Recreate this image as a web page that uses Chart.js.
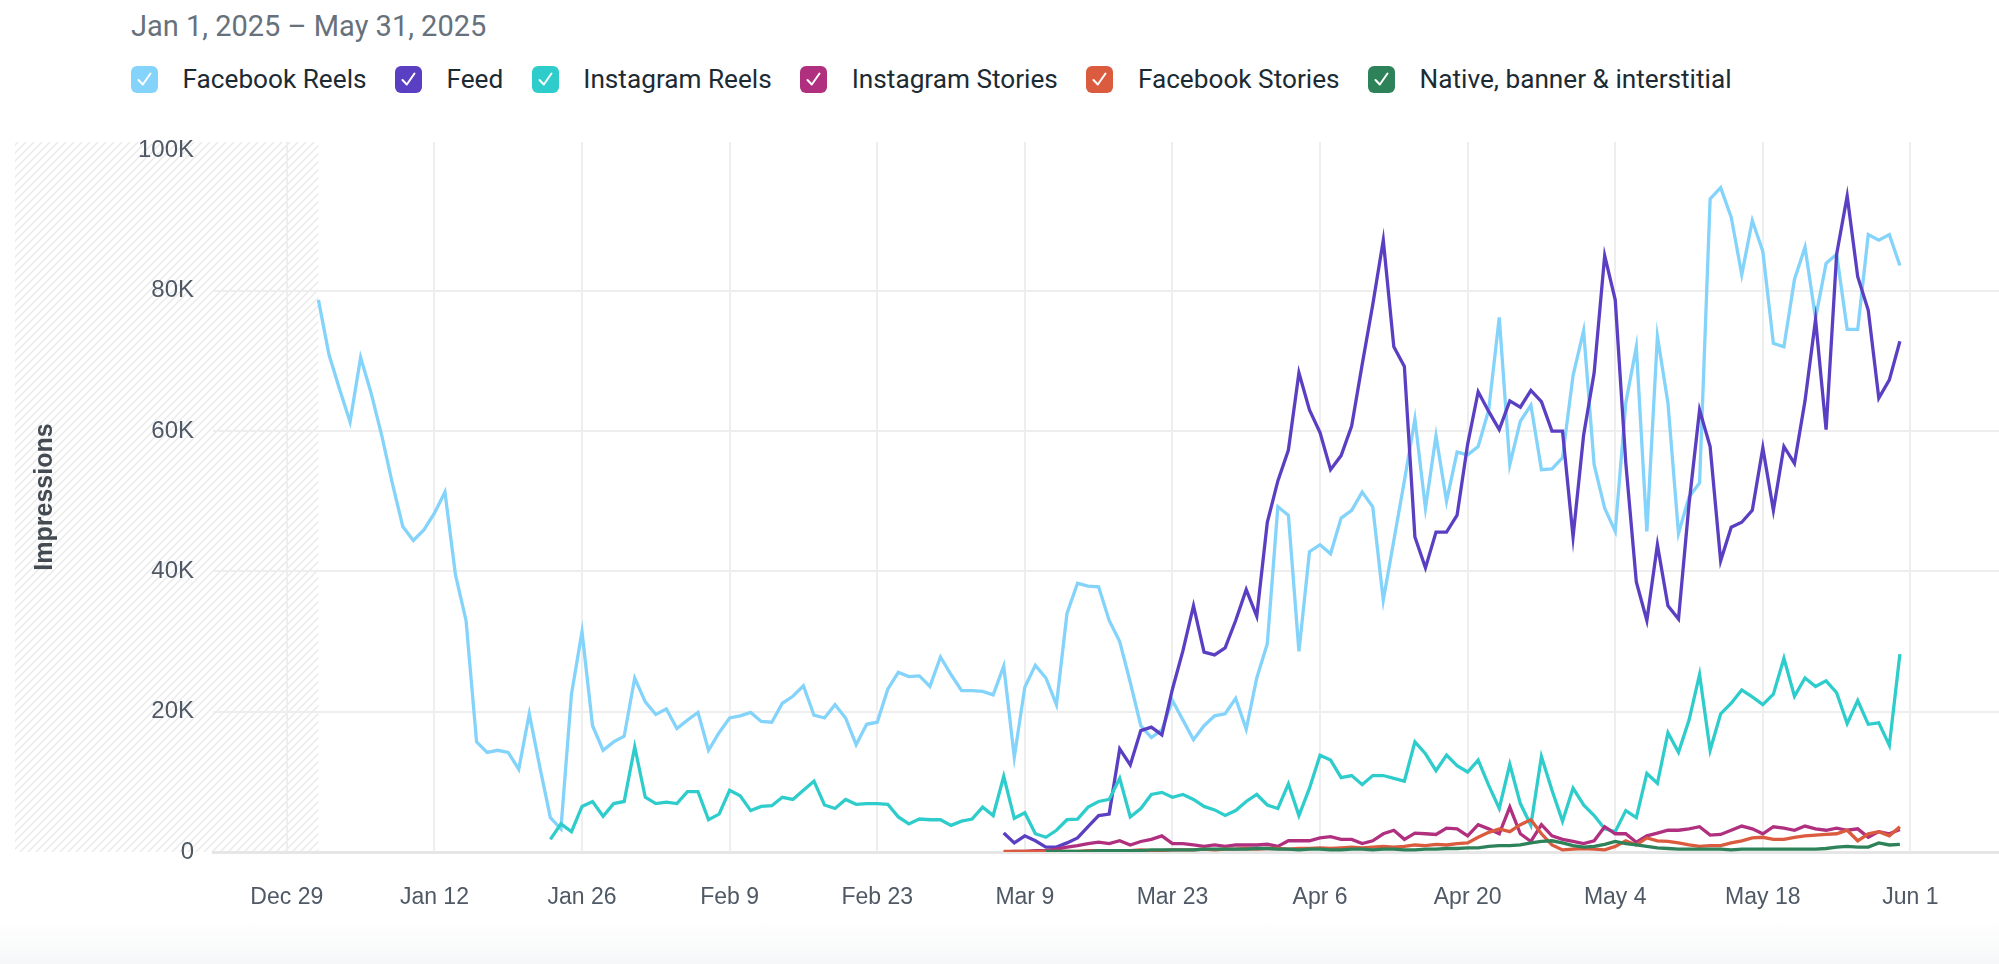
<!DOCTYPE html>
<html>
<head>
<meta charset="utf-8">
<script src="https://cdn.jsdelivr.net/npm/chart.js@4.4.1/dist/chart.umd.min.js"></script>
<style>
  html, body { margin: 0; padding: 0; }
  body {
    width: 1999px; height: 964px; position: relative; overflow: hidden;
    background: linear-gradient(#fff 0, #fff 920px, #f6f7f8 964px);
    font-family: Roboto, sans-serif;
  }
  #range { position: absolute; left: 131px; top: 9px; font-size: 29px; color: #67717c; }
  #legend { position: absolute; left: 131px; top: 64px; display: flex; align-items: center; }
  .item { display: flex; align-items: center; margin-right: 28.5px; font-size: 26.2px; color: #1c2b33; }
  .box { width: 27px; height: 27px; border-radius: 6px; margin-right: 24.5px;
         display: flex; align-items: center; justify-content: center; }
  canvas { position: absolute; left: 0; top: 0; }
</style>
</head>
<body>
<div id="range">Jan 1, 2025 – May 31, 2025</div>
<div id="legend"></div>
<canvas id="chart" width="1999" height="964"></canvas>
<script>
// day 0 = Jan 1, 2025; values in thousands of impressions
const tickDays   = [-3, 11, 25, 39, 53, 67, 81, 95, 109, 123, 137, 151];
const tickLabels = ['Dec 29', 'Jan 12', 'Jan 26', 'Feb 9', 'Feb 23', 'Mar 9', 'Mar 23', 'Apr 6', 'Apr 20', 'May 4', 'May 18', 'Jun 1'];
const yTicks     = [0, 20, 40, 60, 80, 100];

const names  = ['Facebook Reels', 'Feed', 'Instagram Reels', 'Instagram Stories', 'Facebook Stories', 'Native, banner & interstitial'];
const colors = ['#84d3fa', '#5b3fc3', '#2ecdcb', '#b0307f', '#da5b3e', '#2e8259'];
const starts = [0, 65, 22, 65, 65, 69];

const fbReels = [
  78.7, 70.9, 66.0, 61.3, 70.5, 65.4, 59.4, 52.6, 46.4, 44.4, 45.9, 48.3, 51.3, 39.5, 33.0, 15.7, 14.2, 14.5, 14.2, 11.8,
  19.7, 12.1, 4.9, 3.3, 22.5, 31.4, 18.0, 14.5, 15.7, 16.5, 24.8, 21.4, 19.6, 20.4, 17.6, 18.8, 19.9, 14.5, 17.0, 19.1,
  19.4, 19.9, 18.6, 18.5, 21.2, 22.2, 23.7, 19.5, 19.1, 21.0, 19.1, 15.3, 18.2, 18.5, 23.2, 25.6, 25.0, 25.1, 23.6, 27.8,
  25.3, 23.0, 23.0, 22.9, 22.4, 26.5, 13.5, 23.5, 26.6, 24.8, 21.0, 34.0, 38.3, 37.9, 37.8, 33.0, 30.0, 24.2, 18.0, 16.3,
  17.4, 21.6, 18.8, 16.0, 18.0, 19.4, 19.7, 21.9, 17.5, 24.8, 29.7, 49.2, 48.0, 28.6, 42.8, 43.8, 42.5, 47.6, 48.7, 51.3,
  49.2, 35.9, 44.4, 52.9, 61.7, 49.0, 59.3, 50.0, 57.0, 56.6, 57.8, 63.0, 76.2, 55.2, 61.4, 63.7, 54.5, 54.6, 56.2, 67.9,
  74.3, 55.2, 49.0, 45.7, 64.0, 72.0, 45.7, 73.5, 64.0, 45.4, 50.6, 52.6, 93.1, 94.7, 90.5, 82.3, 90.0, 85.6, 72.5, 72.0,
  81.6, 86.2, 76.1, 83.9, 85.2, 74.5, 74.5, 88.0, 87.2, 88.0, 83.6
];
const feed = [
  2.7, 1.3, 2.3, 1.6, 0.7, 0.7, 1.3, 2.0, 3.6, 5.2, 5.4, 14.7, 12.4, 17.3, 17.8, 16.7, 23.2, 28.7, 35.1, 28.5,
  28.1, 29.1, 33.0, 37.4, 33.6, 47.0, 52.9, 57.3, 68.3, 63.0, 59.8, 54.5, 56.5, 60.7, 69.5, 78.0, 87.2, 72.0, 69.2, 44.9,
  40.5, 45.6, 45.6, 48.0, 58.1, 65.6, 62.8, 60.2, 64.3, 63.4, 65.8, 64.2, 60.0, 60.0, 44.9, 59.4, 68.3, 85.0, 78.7, 55.5,
  38.5, 33.0, 43.8, 35.1, 33.2, 49.6, 63.0, 57.8, 41.5, 46.3, 47.0, 48.7, 57.6, 48.7, 57.8, 55.4, 64.3, 75.9, 60.2, 85.2,
  93.5, 82.0, 77.2, 64.7, 67.3, 72.8
];
const igReels = [
  1.8, 4.0, 2.9, 6.5, 7.2, 5.1, 6.9, 7.2, 15.0, 7.8, 6.9, 7.1, 6.9, 8.6, 8.6, 4.6, 5.4, 8.8, 8.0, 5.9,
  6.5, 6.6, 7.8, 7.5, 8.8, 10.1, 6.7, 6.2, 7.5, 6.8, 6.9, 6.9, 6.8, 5.0, 4.0, 4.7, 4.6, 4.6, 3.8, 4.4,
  4.7, 6.4, 5.2, 10.8, 4.8, 5.6, 2.6, 2.1, 3.1, 4.6, 4.7, 6.4, 7.2, 7.5, 10.5, 5.0, 6.2, 8.2, 8.5, 7.8,
  8.2, 7.5, 6.5, 6.0, 5.2, 5.9, 7.2, 8.2, 6.7, 6.2, 9.7, 5.2, 9.1, 13.8, 13.1, 10.6, 10.9, 9.6, 10.9, 10.9,
  10.5, 10.1, 15.7, 14.0, 11.6, 13.8, 12.3, 11.4, 13.1, 9.5, 6.2, 12.5, 6.9, 3.8, 13.6, 8.8, 4.4, 9.1, 6.7, 5.2,
  3.3, 2.9, 5.9, 4.9, 11.2, 9.8, 17.0, 14.2, 18.8, 25.3, 14.5, 19.7, 21.2, 23.1, 22.1, 21.0, 22.5, 27.6, 22.2, 24.8,
  23.6, 24.4, 22.7, 18.3, 21.6, 18.2, 18.4, 15.2, 28.2
];
const igStories = [
  0.0, 0.1, 0.1, 0.2, 0.2, 0.4, 0.7, 0.9, 1.2, 1.4, 1.2, 1.6, 1.0, 1.5, 1.8, 2.3, 1.2, 1.2, 1.0, 0.8,
  1.0, 0.8, 1.0, 1.0, 1.0, 1.1, 0.8, 1.6, 1.6, 1.6, 2.0, 2.2, 1.8, 1.8, 1.2, 1.6, 2.6, 3.1, 1.8, 2.7,
  2.6, 2.5, 3.4, 3.3, 2.3, 3.9, 3.3, 2.6, 6.4, 2.6, 1.5, 3.9, 2.3, 1.8, 1.5, 1.2, 1.6, 3.6, 2.6, 2.6,
  1.4, 2.3, 2.7, 3.1, 3.1, 3.3, 3.6, 2.4, 2.5, 3.1, 3.7, 3.3, 2.6, 3.6, 3.4, 3.1, 3.7, 3.3, 3.1, 3.4,
  3.1, 3.3, 2.1, 2.9, 2.6, 3.2
];
const fbStories = [
  0.1, 0.1, 0.1, 0.1, 0.1, 0.1, 0.1, 0.1, 0.2, 0.2, 0.2, 0.2, 0.2, 0.3, 0.2, 0.2, 0.3, 0.3, 0.3, 0.4,
  0.3, 0.4, 0.4, 0.5, 0.4, 0.5, 0.5, 0.4, 0.5, 0.5, 0.6, 0.5, 0.6, 0.7, 0.6, 0.7, 0.8, 0.7, 0.8, 1.0,
  0.9, 1.1, 1.0, 1.2, 1.3, 2.1, 2.8, 3.3, 2.9, 3.9, 4.6, 2.6, 1.0, 0.3, 0.4, 0.5, 0.4, 0.3, 0.8, 1.6,
  1.0, 2.0, 1.6, 1.5, 1.3, 1.0, 0.8, 0.9, 0.9, 1.3, 1.6, 2.0, 2.1, 1.8, 1.8, 2.1, 2.3, 2.4, 2.5, 2.6,
  3.1, 1.6, 2.6, 2.9, 2.3, 3.6
];
const native = [
  0.1, 0.1, 0.1, 0.1, 0.1, 0.2, 0.2, 0.2, 0.2, 0.2, 0.3, 0.3, 0.3, 0.3, 0.3, 0.4, 0.4, 0.4, 0.4, 0.4,
  0.5, 0.5, 0.4, 0.4, 0.3, 0.4, 0.4, 0.3, 0.3, 0.4, 0.4, 0.3, 0.4, 0.4, 0.3, 0.3, 0.4, 0.4, 0.5, 0.5,
  0.6, 0.6, 0.8, 0.9, 0.9, 1.0, 1.3, 1.5, 1.6, 1.3, 0.9, 0.7, 0.8, 1.1, 1.5, 1.2, 1.0, 0.8, 0.6, 0.5,
  0.4, 0.4, 0.4, 0.4, 0.4, 0.3, 0.4, 0.4, 0.4, 0.4, 0.4, 0.4, 0.4, 0.4, 0.5, 0.7, 0.8, 0.7, 0.7, 1.3,
  1.0, 1.1
];
const allValues = [fbReels, feed, igReels, igStories, fbStories, native];

// legend
const legend = document.getElementById('legend');
names.forEach((n, i) => {
  const item = document.createElement('div');
  item.className = 'item';
  item.innerHTML = `<div class="box" style="background:${colors[i]}"><svg width="17" height="17" viewBox="0 0 17 17">` +
    `<path d="M2.5 9 L6.8 13.5 L14.5 2.5" fill="none" stroke="#fff" stroke-width="2" stroke-linecap="round" stroke-linejoin="round"/></svg></div>`;
  const label = document.createElement('span');
  label.textContent = n;
  item.appendChild(label);
  legend.appendChild(item);
});

const hatch = {
  id: 'hatch',
  beforeDraw(chart) {
    const { ctx, chartArea, scales } = chart;
    const p = document.createElement('canvas');
    p.width = 8; p.height = 8;
    const pc = p.getContext('2d');
    pc.strokeStyle = '#e9e9e9';
    pc.lineWidth = 1.4;
    pc.beginPath();
    pc.moveTo(0, 8); pc.lineTo(8, 0);
    pc.moveTo(-4, 4); pc.lineTo(4, -4);
    pc.moveTo(4, 12); pc.lineTo(12, 4);
    pc.stroke();
    const x1 = scales.x.getPixelForValue(0);
    ctx.save();
    ctx.fillStyle = ctx.createPattern(p, 'repeat');
    ctx.fillRect(15, chartArea.top, x1 - 15, chartArea.bottom - chartArea.top);
    ctx.restore();
  }
};

new Chart(document.getElementById('chart'), {
  type: 'line',
  data: {
    datasets: allValues.map((vals, i) => ({
      label: names[i],
      data: vals.map((v, j) => ({ x: starts[i] + j, y: v })),
      borderColor: colors[i],
      borderWidth: 3.3,
      pointRadius: 0,
      tension: 0,
      fill: false,
      order: 5 - i,
    })),
  },
  options: {
    responsive: false,
    animation: false,
    layout: { padding: { top: 142, left: 15, right: 0, bottom: 0 } },
    plugins: { legend: { display: false }, tooltip: { enabled: false } },
    scales: {
      x: {
        type: 'linear',
        min: -10,
        max: 159.4,
        afterBuildTicks: s => { s.ticks = tickDays.map(v => ({ value: v })); },
        afterFit: s => { s.height = 112; },
        ticks: {
          autoSkip: false, maxRotation: 0, padding: 32,
          color: '#4f5966',
          font: { family: 'Liberation Sans, Arial, sans-serif', size: 23 },
          callback: v => tickLabels[tickDays.indexOf(v)],
        },
        grid: { color: '#eeeeee', lineWidth: 2, drawTicks: false },
        border: { display: true, color: '#e6e6e6', width: 3 },
      },
      y: {
        min: 0,
        max: 101.2,
        afterBuildTicks: s => { s.ticks = yTicks.map(v => ({ value: v })); },
        afterFit: s => { s.width = 198; },
        ticks: {
          padding: 19,
          color: '#4f5966',
          font: { family: 'Liberation Sans, Arial, sans-serif', size: 24 },
          callback: v => v === 0 ? '0' : v + 'K',
        },
        grid: {
          color: c => c.tick && c.tick.value === 100 ? 'rgba(0,0,0,0)' : '#eeeeee',
          lineWidth: 2, drawTicks: false,
        },
        border: { display: false },
        title: {
          display: true, text: 'Impressions', color: '#444a52',
          font: { family: 'Liberation Sans, Arial, sans-serif', size: 25, weight: 'bold' },
          padding: { top: 15, bottom: 0 },
        },
      },
    },
  },
  plugins: [hatch],
});
</script>
</body>
</html>
